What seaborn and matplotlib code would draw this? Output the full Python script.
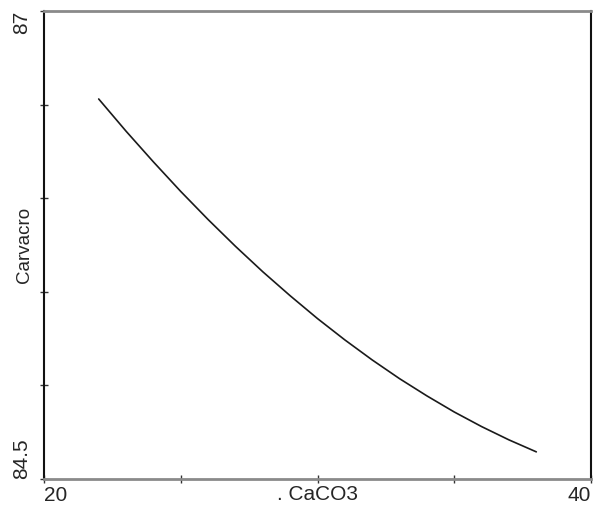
import numpy as np
import pandas as pd
import matplotlib
matplotlib.use("Agg")
import matplotlib.pyplot as plt
import seaborn as sns

# ---------------------- DATA ----------------------
caco3 = [22, 23, 24, 25, 26, 27, 28, 29, 30, 31, 32, 33, 34, 35, 36, 37, 38]
carvacrol = [86.530, 86.358, 86.194, 86.036, 85.886, 85.743, 85.607, 85.479,
             85.357, 85.243, 85.136, 85.036, 84.944, 84.858, 84.780, 84.709, 84.645]

x_ticks = [20, 25, 30, 35, 40]
x_ticklabels = ["20", "", "", "", "40"]
y_ticks = [84.5, 85, 85.5, 86, 86.5, 87]
y_ticklabels = ["84.5", "", "", "", "", "87"]

df = pd.DataFrame({"CaCO3": caco3, "Carvacro": carvacrol})

# ---------------------- PLOT ----------------------
sns.set_style("white")
plt.rcParams['font.family'] = ['Liberation Sans', 'DejaVu Sans']

fig = plt.figure(figsize=(5.93, 5.08), dpi=100)
ax = fig.add_axes([44 / 593, 1 - 479 / 508, 547 / 593, 468 / 508])

sns.lineplot(data=df, x="CaCO3", y="Carvacro", ax=ax, color="#1a1a1a", linewidth=1.2)

ax.set_xlim(20, 40)
ax.set_ylim(84.5, 87)
ax.set_xticks(x_ticks)
ax.set_xticklabels(x_ticklabels, fontsize=15)
ax.set_yticks(y_ticks)
ax.set_yticklabels(y_ticklabels, fontsize=15, rotation=90, va="center")

ax.tick_params(axis="both", direction="inout", length=6, width=1, color="#333333",
               left=True, bottom=True)
ax.tick_params(axis="y", pad=6)
ax.tick_params(axis="x", pad=2)

# end labels sit inside the axis span
xl = ax.get_xticklabels()
xl[0].set_ha("left")
xl[-1].set_ha("right")
yl = ax.get_yticklabels()
yl[0].set_va("bottom")
yl[-1].set_va("top")

ax.set_xlabel(". CaCO3", fontsize=15)
ax.xaxis.set_label_coords(0.5, -0.013)
ax.xaxis.label.set_va("top")
ax.set_ylabel("Carvacro", fontsize=13.5)
ax.yaxis.set_label_coords(-0.02, 0.5)

for side in ["top", "bottom"]:
    ax.spines[side].set_color("#8a8a8a")
    ax.spines[side].set_linewidth(2)
for side in ["left", "right"]:
    ax.spines[side].set_color("#111111")
    ax.spines[side].set_linewidth(1.5)

fig.savefig("out.png", dpi=100)
